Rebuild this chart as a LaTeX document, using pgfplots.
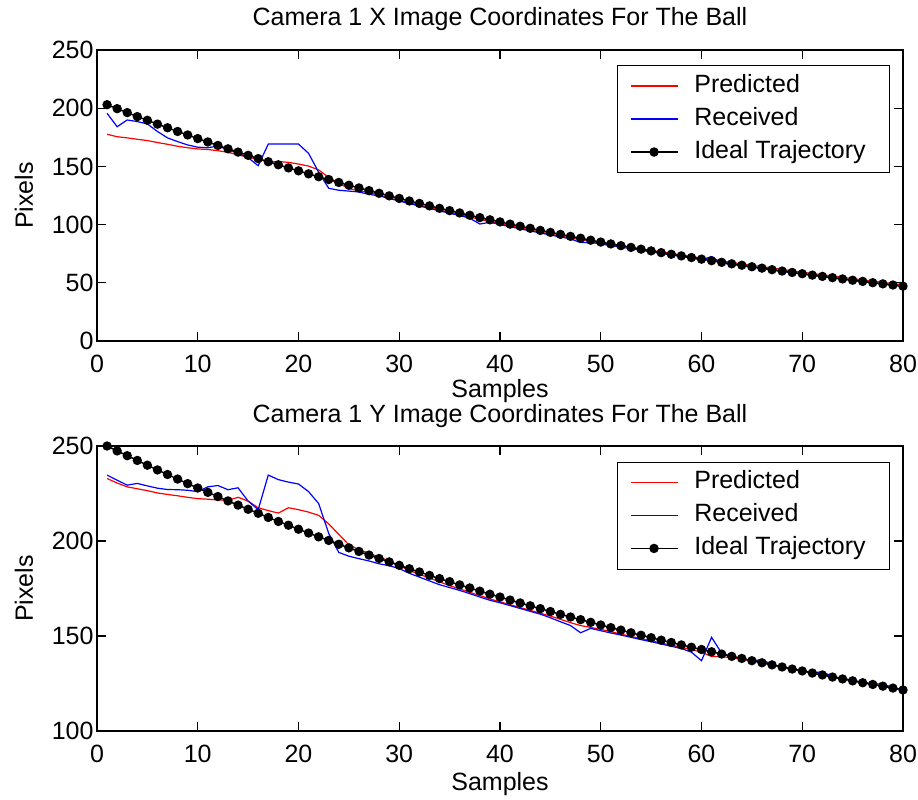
\documentclass[border=0pt]{standalone}
\usepackage{fontspec}
\setmainfont{Liberation Sans}
\usepackage{pgfplots}
\usepackage{pgfplotstable}
\pgfplotsset{compat=1.18}
\newcommand\ff{\fontsize{25}{30}\selectfont}

\pgfplotstableread{
x pred recv ideal
1 177.6 195.6 203.0
2 175.5 184.1 199.6
3 174.5 189.9 196.2
4 173.3 188.5 192.8
5 172.2 186.5 189.6
6 170.5 180.0 186.3
7 169.0 174.5 183.2
8 167.3 171.3 180.0
9 166.0 168.4 177.0
10 165.0 166.5 173.9
11 164.5 166.0 171.0
12 163.5 167.5 168.0
13 162.1 164.5 165.1
14 160.0 161.4 162.3
15 157.8 157.5 159.5
16 156.2 150.6 156.7
17 153.8 169.2 154.0
18 154.2 169.2 151.4
19 153.5 169.2 148.7
20 152.0 169.2 146.2
21 150.3 161.2 143.6
22 147.0 145.0 141.1
23 140.5 131.2 138.7
24 135.5 129.5 136.2
25 131.0 128.8 133.8
26 129.0 128.0 131.5
27 127.5 126.0 129.2
28 125.4 124.7 126.9
29 122.8 122.5 124.7
30 120.8 120.3 122.5
31 118.8 118.1 120.3
32 116.7 116.0 118.2
33 114.6 113.9 116.1
34 112.5 111.8 114.0
35 110.5 109.8 112.0
36 108.5 107.8 110.0
37 106.5 105.5 108.0
38 104.5 100.5 106.0
39 102.6 102.0 104.1
40 100.8 100.1 102.3
41 98.9 98.2 100.4
42 97.1 96.4 98.6
43 95.3 94.6 96.8
44 93.5 92.8 95.0
45 91.8 91.1 93.3
46 90.1 89.4 91.6
47 88.6 87.8 89.9
48 87.0 84.5 88.3
49 85.6 84.8 86.6
50 84.2 83.3 85.0
51 83.0 82.0 83.4
52 81.7 80.6 81.9
53 80.4 79.3 80.4
54 79.1 77.9 78.9
55 77.8 76.6 77.4
56 76.5 75.2 75.9
57 75.2 73.9 74.5
58 73.9 72.6 73.1
59 72.6 71.2 71.7
60 71.3 69.8 70.3
61 70.0 72.5 69.0
62 68.8 67.0 67.6
63 67.5 65.8 66.3
64 66.3 64.6 65.1
65 65.1 63.4 63.8
66 63.9 62.2 62.6
67 62.7 60.9 61.3
68 61.5 59.7 60.1
69 60.3 58.6 58.9
70 59.1 57.5 57.8
71 58.0 56.4 56.6
72 56.9 55.3 55.5
73 55.8 54.2 54.4
74 54.7 53.1 53.3
75 53.6 52.0 52.2
76 52.5 51.0 51.2
77 51.4 49.9 50.1
78 50.4 48.9 49.1
79 49.3 47.9 48.1
80 48.3 46.9 47.1
}\topdata

\pgfplotstableread{
x pred recv ideal
1 232.9 234.7 250.0
2 230.5 232.0 247.4
3 228.5 229.4 244.9
4 227.5 230.3 242.4
5 226.5 229.0 239.9
6 225.3 227.8 237.4
7 224.5 227.1 235.0
8 223.8 227.0 232.6
9 223.0 226.7 230.2
10 222.3 226.0 227.9
11 222.0 228.5 225.6
12 221.6 229.2 223.4
13 221.4 227.0 221.1
14 223.0 228.0 218.9
15 221.0 221.0 216.7
16 217.5 216.5 214.6
17 216.0 234.7 212.4
18 214.7 232.3 210.3
19 217.5 231.0 208.3
20 216.5 230.0 206.2
21 215.2 226.0 204.2
22 213.5 219.7 202.2
23 209.0 204.0 200.3
24 203.5 194.0 198.3
25 198.0 192.0 196.4
26 195.5 190.7 194.5
27 193.5 189.5 192.6
28 191.6 188.0 190.8
29 189.5 187.0 189.0
30 187.0 185.5 187.2
31 184.5 183.0 185.4
32 182.5 181.0 183.7
33 180.5 179.0 181.9
34 178.5 177.0 180.2
35 176.5 175.5 178.6
36 174.8 174.0 176.9
37 173.0 172.3 175.3
38 171.3 170.5 173.6
39 169.5 168.8 172.0
40 168.0 167.5 170.5
41 166.5 166.0 168.9
42 165.0 164.5 167.4
43 163.5 163.0 165.9
44 162.0 161.5 164.4
45 160.5 159.6 162.9
46 158.8 157.5 161.4
47 157.0 155.5 160.0
48 155.5 151.7 158.6
49 154.5 154.0 157.2
50 153.5 152.8 155.8
51 152.3 151.6 154.4
52 151.0 150.5 153.1
53 149.8 149.3 151.7
54 148.6 148.1 150.4
55 147.5 147.0 149.1
56 146.3 145.8 147.8
57 145.2 144.6 146.6
58 144.0 143.4 145.3
59 142.8 141.5 144.1
60 141.5 137.0 142.9
61 139.2 149.3 141.7
62 139.2 141.0 140.5
63 138.5 139.3 139.3
64 137.8 138.2 138.2
65 137.0 137.0 137.0
66 136.0 137.5 135.9
67 134.8 135.0 134.8
68 133.7 133.8 133.7
69 132.6 132.8 132.6
70 131.6 131.8 131.6
71 130.6 130.8 130.5
72 129.5 131.0 129.5
73 128.5 128.8 128.4
74 127.5 127.7 127.4
75 126.5 126.7 126.4
76 125.5 125.7 125.4
77 124.6 124.8 124.5
78 123.6 124.8 123.6
79 122.6 122.8 122.6
80 121.6 121.6 121.6
}\botdata

\pgfplotsset{
  predstyle/.style={color=red, line width=1.2pt, no marks},
  recvstyle/.style={color=blue, line width=1.2pt, no marks},
  idealstyle/.style={color=black, line width=1.5pt, mark=*, mark size=3.9pt},
  mystyle/.style={
    scale only axis, width=806pt,
    xmin=0, xmax=80, xtick={0,10,...,80},
    axis line style={line width=1.1pt},
    every tick/.style={line width=1.1pt, black},
    major tick length=9pt, tick align=inside,
    xtick pos=both, ytick pos=both,
    xticklabel pos=bottom, yticklabel pos=left,
    /pgf/number format/assume math mode=true,
    tick label style={font=\ff},
    label style={font=\ff},
    xticklabel style={anchor=base, yshift=-31pt},
    title style={font=\ff, anchor=base},
    ylabel style={at={(axis description cs:-0.0794,0.5)}, anchor=base},
    legend style={font=\ff, draw=black, line width=0.8pt, fill=white,
      anchor=north east,
      inner xsep=12pt, inner ysep=6pt, row sep=4pt, column sep=13pt,
      nodes={inner sep=3pt, text height=18pt, text depth=5pt}},
    legend cell align=left,
    legend image code/.code={\draw[mark repeat=2,mark phase=2,##1,line width=1.6pt] plot coordinates {(0pt,0pt) (23.5pt,0pt) (47pt,0pt)};},
    clip=false,
  },
}

\begin{document}
\begin{tikzpicture}
\useasboundingbox (0pt,0pt) rectangle (918pt,-800pt);
\begin{axis}[mystyle, height=291pt,
  at={(97pt,-50pt)}, anchor=north west,
  ymin=0, ymax=250, ytick={0,50,...,250},
  legend style={at={(0.984,0.948)}},
  title={Camera 1 X Image Coordinates For The Ball},
  title style={at={(axis description cs:0.5,1.062)}},
  xlabel={Samples}, ylabel={Pixels},
  xlabel style={at={(axis description cs:0.5,-0.193)}, anchor=base},
]
\addlegendimage{predstyle}
\addlegendentry{Predicted}
\addlegendimage{recvstyle}
\addlegendentry{Received}
\addlegendimage{idealstyle}
\addlegendentry{Ideal Trajectory\hspace*{9pt}}
\addplot[predstyle, forget plot] table[x=x, y=pred] {\topdata};
\addplot[recvstyle, forget plot] table[x=x, y=recv] {\topdata};
\addplot[idealstyle, forget plot] table[x=x, y=ideal] {\topdata};
\end{axis}
\begin{axis}[mystyle, height=285pt,
  at={(97pt,-446pt)}, anchor=north west,
  ymin=100, ymax=250, ytick={100,150,...,250},
  legend style={at={(0.984,0.9455)}},
  title={Camera 1 Y Image Coordinates For The Ball},
  title style={at={(axis description cs:0.5,1.062)}},
  xlabel={Samples}, ylabel={Pixels},
  xlabel style={at={(axis description cs:0.5,-0.207)}, anchor=base},
]
\addlegendimage{predstyle}
\addlegendentry{Predicted}
\addlegendimage{recvstyle}
\addlegendentry{Received}
\addlegendimage{idealstyle}
\addlegendentry{Ideal Trajectory\hspace*{9pt}}
\addplot[predstyle, forget plot] table[x=x, y=pred] {\botdata};
\addplot[recvstyle, forget plot] table[x=x, y=recv] {\botdata};
\addplot[idealstyle, forget plot] table[x=x, y=ideal] {\botdata};
\end{axis}
\end{tikzpicture}
\end{document}
